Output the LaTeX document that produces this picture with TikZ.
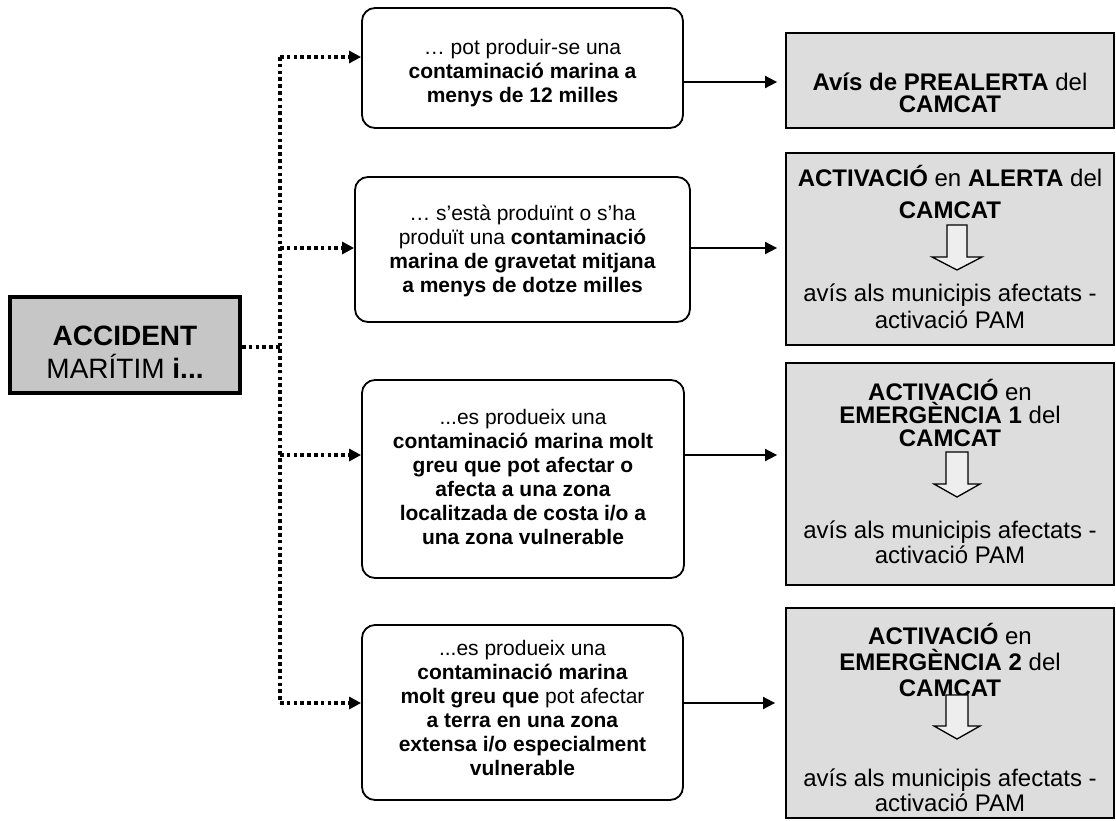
\documentclass[tikz,border=0pt]{standalone}
\usepackage{fontspec}
\setmainfont{Liberation Sans}
\usetikzlibrary{arrows.meta}
\definecolor{boxgray}{HTML}{DDDDDD}
\definecolor{accgray}{HTML}{C6C6C6}
\definecolor{arrgray}{HTML}{EEEEEE}
\tikzset{
  lbox/.style={draw, line width=1.8pt, rounded corners=13pt, fill=white, inner sep=0pt},
  ltxt/.style={align=center, inner sep=0pt, font=\fontsize{21}{24}\selectfont},
  rbox/.style={draw, line width=1.8pt, fill=boxgray, inner sep=0pt},
  accbox/.style={draw, line width=4pt, fill=accgray, inner sep=0pt},
  acctxt/.style={align=center, inner sep=0pt, font=\fontsize{28}{33}\selectfont},
  rtxt/.style={align=center, inner sep=0pt},
  dotline/.style={line width=3.5pt, dash pattern=on 3.5pt off 3.3pt},
  dotarr/.style={dotline, -{Triangle[length=12pt,width=12pt]}},
  solarr/.style={line width=1.8pt, -{Triangle[length=12pt,width=12pt]}},
  hollow/.style={draw, line width=1.3pt, fill=arrgray, line join=miter}
}
\begin{document}
\begin{tikzpicture}[x=1pt,y=-1pt]
\useasboundingbox (0,0) rectangle (1116,820);

% left box
\node[accbox, minimum width=230pt, minimum height=96pt] (acc) at (125,345) {};
\node[acctxt] (acct) at (125,352) {\textbf{ACCIDENT}\\MARÍTIM \textbf{i...}};

% condition boxes
\node[lbox, minimum width=321pt, minimum height=120pt] (b1) at (522.5,68) {};
\node[lbox, minimum width=335pt, minimum height=145pt] (b2) at (522.5,249.5) {};
\node[lbox, minimum width=322pt, minimum height=198pt] (b3) at (523,479) {};
\node[lbox, minimum width=321pt, minimum height=175pt] (b4) at (522.5,712.5) {};

\node[ltxt] (b1t) at (522.5,73)
  {… pot produir-se una\\\textbf{contaminació marina a}\\\textbf{menys de 12 milles}};
\node[ltxt] (b2t) at (522.5,251)
  {… s’està produïnt o s’ha\\produït una \textbf{contaminació}\\\textbf{marina de gravetat mitjana}\\\textbf{a menys de dotze milles}};
\node[ltxt] (b3t) at (523,477)
  {...es produeix una\\\textbf{contaminació marina molt}\\\textbf{greu que pot afectar o}\\\textbf{afecta a una zona}\\\textbf{localitzada de costa i/o a}\\\textbf{una zona vulnerable}};
\node[ltxt] (b4t) at (522.5,708)
  {...es produeix una\\\textbf{contaminació marina}\\\textbf{molt greu que} pot afectar\\\textbf{a terra en una zona}\\\textbf{extensa i/o especialment}\\\textbf{vulnerable}};

% result boxes
\node[rbox, minimum width=328pt, minimum height=95pt] (r1) at (950,80.5) {};
\node[rbox, minimum width=328pt, minimum height=192pt] (r2) at (950,249) {};
\node[rbox, minimum width=328pt, minimum height=222pt] (r3) at (950,474) {};
\node[rbox, minimum width=328pt, minimum height=210pt] (r4) at (950,713) {};

% result texts
\node[rtxt, font=\fontsize{24}{22}\selectfont] (t1) at (950,93)
  {\textbf{Avís de PREALERTA} del\\\textbf{CAMCAT}};
\node[rtxt, font=\fontsize{24}{32}\selectfont] (t2a) at (950,192)
  {\textbf{ACTIVACIÓ} en \textbf{ALERTA} del\\\textbf{CAMCAT}};
\node[rtxt, font=\fontsize{24}{27}\selectfont] (t2b) at (950,306)
  {avís als municipis afectats -\\activació PAM};
\node[rtxt, font=\fontsize{24}{23}\selectfont] (t3a) at (950,413)
  {\textbf{ACTIVACIÓ} en\\\textbf{EMERGÈNCIA 1} del\\\textbf{CAMCAT}};
\node[rtxt, font=\fontsize{24}{25}\selectfont] (t3b) at (950,542)
  {avís als municipis afectats -\\activació PAM};
\node[rtxt, font=\fontsize{24}{26}\selectfont] (t4a) at (950,660)
  {\textbf{ACTIVACIÓ} en\\\textbf{EMERGÈNCIA 2} del\\\textbf{CAMCAT}};
\node[rtxt, font=\fontsize{24}{25}\selectfont] (t4b) at (950,790)
  {avís als municipis afectats -\\activació PAM};

% hollow down arrows
\draw[hollow] (947,225) -- (967,225) -- (967,257) -- (982,257) -- (957,270)
  -- (932,257) -- (947,257) -- cycle;
\draw[hollow] (946,452) -- (968,452) -- (968,484) -- (980,484) -- (957,497)
  -- (934,484) -- (946,484) -- cycle;
\draw[hollow] (946,695) -- (968,695) -- (968,726) -- (980,726) -- (957,739)
  -- (934,726) -- (946,726) -- cycle;

% dotted connectors
\coordinate (j) at (280,347);
\coordinate (ja) at (280,57);
\coordinate (jb) at (280,248);
\coordinate (jc) at (280,455);
\coordinate (jd) at (280,703);
\draw[dotline] (acc.east |- j) -- (j);
\draw[dotline] (ja) -- (jd);
\draw[dotarr] (ja) -- (b1.west |- ja);
\draw[dotarr] (jb) -- (b2.west |- jb);
\draw[dotarr] (jc) -- (b3.west |- jc);
\draw[dotarr] (jd) -- (b4.west |- jd);

% solid arrows
\coordinate (s1) at (0,82);
\coordinate (s2) at (0,248);
\coordinate (s3) at (0,455);
\coordinate (s4) at (0,703);
\draw[solarr, shorten >=8pt] (b1.east |- s1) -- (r1.west |- s1);
\draw[solarr, shorten >=8pt] (b2.east |- s2) -- (r2.west |- s2);
\draw[solarr, shorten >=8pt] (b3.east |- s3) -- (r3.west |- s3);
\draw[solarr, shorten >=10pt] (b4.east |- s4) -- (r4.west |- s4);
\end{tikzpicture}
\end{document}
